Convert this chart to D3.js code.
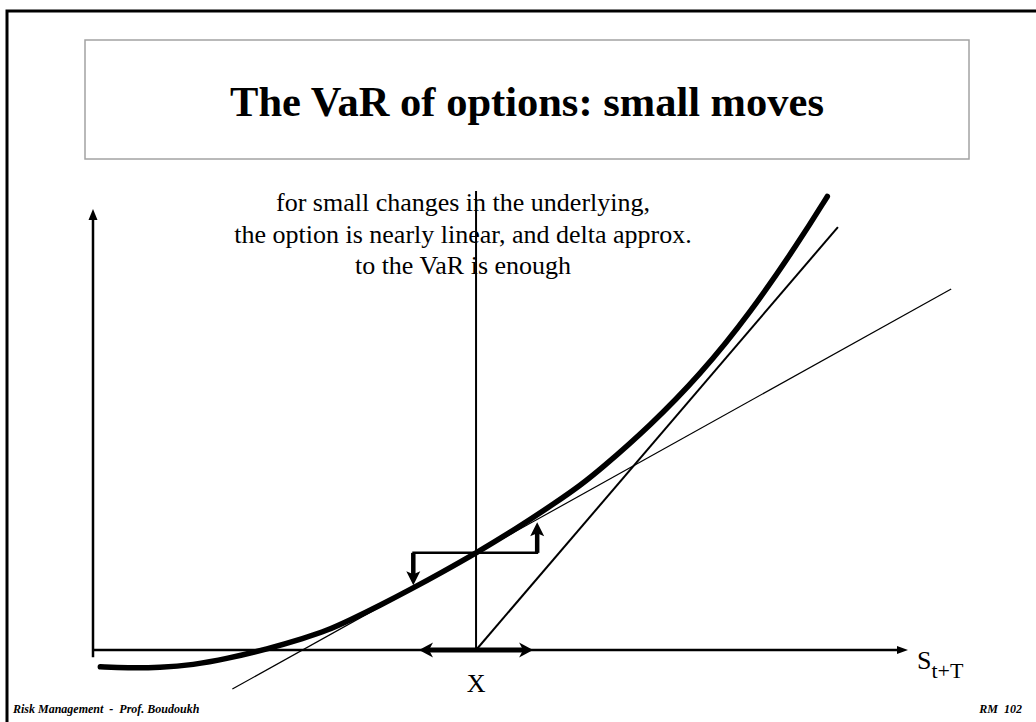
<!DOCTYPE html>
<html>
<head>
<meta charset="utf-8">
<script src="https://cdn.jsdelivr.net/npm/d3@7"></script>
<style>
  html, body { margin: 0; padding: 0; background: #fff; }
  svg { display: block; }
  text { font-family: "Liberation Serif", "Times New Roman", serif; fill: #000; }
</style>
</head>
<body>
<svg id="chart" width="1036" height="722"></svg>
<script>
// Underlying price at expiry (S) and option value along the convex price curve
const spot        = [0.9, 4.2, 8.2, 12.3, 16.4, 21.4, 26.0, 28.7, 31.5, 35.2, 39.3, 42.6, 47.0, 52.0, 56.9, 59.8, 62.2, 68.3, 74.5, 80.6, 86.7, 90.1];
const optionValue = [-1.77, -1.88, -1.85, -1.57, -0.92, 0.10, 1.27, 2.04, 3.13, 4.68, 6.52, 8.06, 10.18, 12.77, 15.55, 17.29, 18.92, 23.49, 28.90, 35.33, 42.95, 47.62];

// Strike and the intrinsic (payoff) line
const strike      = 47;
const payoffS     = [47, 91.4];
const payoffV     = [0, 44.4];

// Delta (tangent) approximation line endpoints
const deltaS      = [17.1, 105.3];
const deltaV      = [-4.1, 37.9];

// Small move in the underlying, and the delta-approximated value changes
const moveS       = [40, 54];
const shockS      = [39.3, 54.5];
const shockLevel  = 10.2;
const shockTipV   = [6.8, 13.4];

// Axis extents
const axisS       = [0, 100];
const axisV       = [-0.75, 46.3];
const strikeTopV  = 48.2;

// Text
const titleText   = "The VaR of options: small moves";
const noteLines   = ["for small changes in the underlying,",
                     "the option is nearly linear, and delta approx.",
                     "to the VaR is enough"];
const footerLeft  = "Risk Management  -  Prof. Boudoukh";
const footerRight = "RM  102";

const svg = d3.select("#chart");

const x = d3.scaleLinear().domain([0, 100]).range([93, 908]);
const y = d3.scaleLinear().domain([0, 46.3]).range([650, 209]);

// Slide frame and title box
svg.append("rect").attr("x", 7).attr("y", 11).attr("width", 1040).attr("height", 730)
  .attr("fill", "none").attr("stroke", "#000").attr("stroke-width", 3);
svg.append("rect").attr("x", 85).attr("y", 40).attr("width", 884).attr("height", 119)
  .attr("fill", "none").attr("stroke", "#a3a3a3").attr("stroke-width", 1.5);
svg.append("text").attr("x", 527).attr("y", 116).attr("text-anchor", "middle")
  .attr("font-size", 42.5).attr("font-weight", "bold").text(titleText);

// Explanatory note
svg.append("g").selectAll("text").data(noteLines).join("text")
  .attr("x", 463).attr("y", (d, i) => 211 + i * 31.5)
  .attr("text-anchor", "middle").attr("font-size", 26).text(d => d);

const g = svg.append("g");

// Axes
g.append("line").attr("x1", x(0)).attr("x2", x(0)).attr("y1", y(axisV[0])).attr("y2", y(axisV[1]) + 8)
  .attr("stroke", "#000").attr("stroke-width", 2.5);
g.append("path")
  .attr("d", `M${x(0)},${y(axisV[1])} L${x(0) - 4.5},${y(axisV[1]) + 11} L${x(0) + 4.5},${y(axisV[1]) + 11} Z`)
  .attr("fill", "#000");
g.append("line").attr("x1", x(axisS[0])).attr("x2", x(axisS[1]) - 8).attr("y1", y(0)).attr("y2", y(0))
  .attr("stroke", "#000").attr("stroke-width", 2.5);
g.append("path")
  .attr("d", `M${x(axisS[1])},${y(0)} L${x(axisS[1]) - 11},${y(0) - 4} L${x(axisS[1]) - 11},${y(0) + 4} Z`)
  .attr("fill", "#000");

// Strike line
g.append("line").attr("x1", x(strike)).attr("x2", x(strike)).attr("y1", y(0)).attr("y2", y(strikeTopV))
  .attr("stroke", "#000").attr("stroke-width", 2);

// Intrinsic value line
g.append("line").attr("x1", x(payoffS[0])).attr("y1", y(payoffV[0]))
  .attr("x2", x(payoffS[1])).attr("y2", y(payoffV[1]))
  .attr("stroke", "#000").attr("stroke-width", 2);

// Delta tangent line
g.append("line").attr("x1", x(deltaS[0])).attr("y1", y(deltaV[0]))
  .attr("x2", x(deltaS[1])).attr("y2", y(deltaV[1]))
  .attr("stroke", "#000").attr("stroke-width", 1.2);

// Option price curve
const pts = spot.map((s, i) => [s, optionValue[i]]);
g.append("path").datum(pts)
  .attr("d", d3.line().x(d => x(d[0])).y(d => y(d[1])).curve(d3.curveBasis))
  .attr("fill", "none").attr("stroke", "#000").attr("stroke-width", 5.5)
  .attr("stroke-linecap", "round");

// Arrowhead helper: tip at (tx, ty), pointing along unit vector (ux, uy)
function head(tx, ty, ux, uy, len, half, notch) {
  const px = -uy, py = ux;
  const bx = tx - ux * len, by = ty - uy * len;
  const nx = tx - ux * (len - notch), ny = ty - uy * (len - notch);
  return `M${tx},${ty} L${bx + px * half},${by + py * half} L${nx},${ny} L${bx - px * half},${by - py * half} Z`;
}

// Move in the underlying around the strike (double-headed)
const my = y(0);
g.append("line").attr("x1", x(moveS[0]) + 8).attr("x2", x(moveS[1]) - 8).attr("y1", my).attr("y2", my)
  .attr("stroke", "#000").attr("stroke-width", 5);
g.append("path").attr("d", head(x(moveS[0]), my, -1, 0, 14, 7.5, 4)).attr("fill", "#000");
g.append("path").attr("d", head(x(moveS[1]), my, 1, 0, 14, 7.5, 4)).attr("fill", "#000");

// Delta-approximated value changes
const ly = y(shockLevel);
g.append("line").attr("x1", x(shockS[0]) - 1).attr("x2", x(shockS[1]) + 1).attr("y1", ly).attr("y2", ly)
  .attr("stroke", "#000").attr("stroke-width", 2.5);
[0, 1].forEach(i => {
  const sx = x(shockS[i]);
  const ty = y(shockTipV[i]);
  const dir = ty > ly ? 1 : -1;
  g.append("line").attr("x1", sx).attr("x2", sx).attr("y1", ly).attr("y2", ty - dir * 10)
    .attr("stroke", "#000").attr("stroke-width", 4.5);
  g.append("path").attr("d", head(sx, ty, 0, dir, 14, 7, 3)).attr("fill", "#000");
});

// Axis labels
svg.append("text").attr("x", x(strike)).attr("y", y(0) + 42).attr("text-anchor", "middle")
  .attr("font-size", 26).text("X");
const sLab = svg.append("text").attr("x", x(axisS[1]) + 9).attr("y", y(0) + 19).attr("font-size", 26);
sLab.append("tspan").text("S");
sLab.append("tspan").attr("dy", 9).attr("font-size", 22).text("t+T");

// Footer
svg.append("text").attr("x", 13).attr("y", 713).attr("font-size", 12)
  .attr("font-weight", "bold").attr("font-style", "italic")
  .style("white-space", "pre").text(footerLeft);
svg.append("text").attr("x", 1022).attr("y", 713).attr("text-anchor", "end").attr("font-size", 12)
  .attr("font-weight", "bold").attr("font-style", "italic")
  .style("white-space", "pre").text(footerRight);
</script>
</body>
</html>
